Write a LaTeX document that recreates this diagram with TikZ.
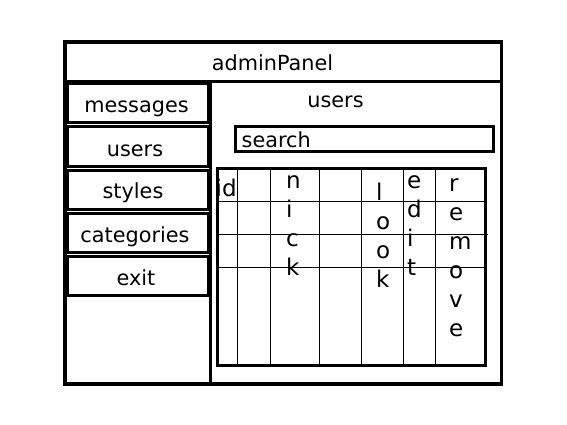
\documentclass[tikz,border=0pt]{standalone}
\usepackage{fontspec}
\setmainfont{DejaVu Sans}
\begin{document}
\begin{tikzpicture}[x=1pt, y=-1pt,
                    frame/.style={draw=black, line width=3pt},
                    cell/.style={draw=black, line width=1pt},
                    label/.style={inner sep=0pt, anchor=base,
                                  font=\fontsize{20.8}{24}\selectfont},
                    colhead/.style={inner sep=0pt, anchor=north west, align=left,
                                  font=\fontsize{23}{29}\selectfont}]
\useasboundingbox (0,0) rectangle (567,425);
% window
\draw[frame, line width=3.5pt] (65,42) rectangle (501.5,384);
\draw[frame] (65,82) -- (501.5,82);
\draw[frame] (210.5,82) -- (210.5,384);
\node[label] (title) at (272.5,71) {adminPanel};
% menu
\draw[frame] (67,83.5) rectangle (208,122.5);
\draw[frame] (67,126.5) rectangle (208,166.5);
\draw[frame] (67,170) rectangle (208,209);
\draw[frame] (67,213) rectangle (208,252.5);
\draw[frame] (67,256.5) rectangle (208,295);
\node[label] (messages) at (136.5,112.3) {messages};
\node[label] (users) at (135,156) {users};
\node[label] (styles) at (133,198) {styles};
\node[label] (categories) at (135,242.5) {categories};
\node[label] (exit) at (136,285) {exit};
% content
\node[label] (heading) at (335.5,107.7) {users};
\draw[frame] (235.5,126.5) rectangle (493,151.5);
\node[label, anchor=base west] (search) at (241.5,147) {search};
% table
\draw[frame] (217.5,168.5) rectangle (485,365.5);
\foreach \x in {237.3, 270.7, 319.3, 361.7, 403.3, 435.7}
  \draw[cell] (\x,168.5) -- (\x,365.5);
\draw[cell] (217.5,201) -- (485,201);
\draw[cell] (217.5,234) -- (488,234);
\draw[cell] (217.5,267.3) -- (485,267.3);
\node[colhead, anchor=base west] (id) at (215.5,196) {id};
\node[colhead] (nick) at (286,175) {n\\i\\c\\k};
\node[colhead] (look) at (376,182.7) {l\\o\\o\\k};
\node[colhead] (edit) at (407,175) {e\\d\\i\\t};
\node[colhead] (remove) at (449,178) {r\\e\\m\\o\\v\\e};
\end{tikzpicture}
\end{document}
